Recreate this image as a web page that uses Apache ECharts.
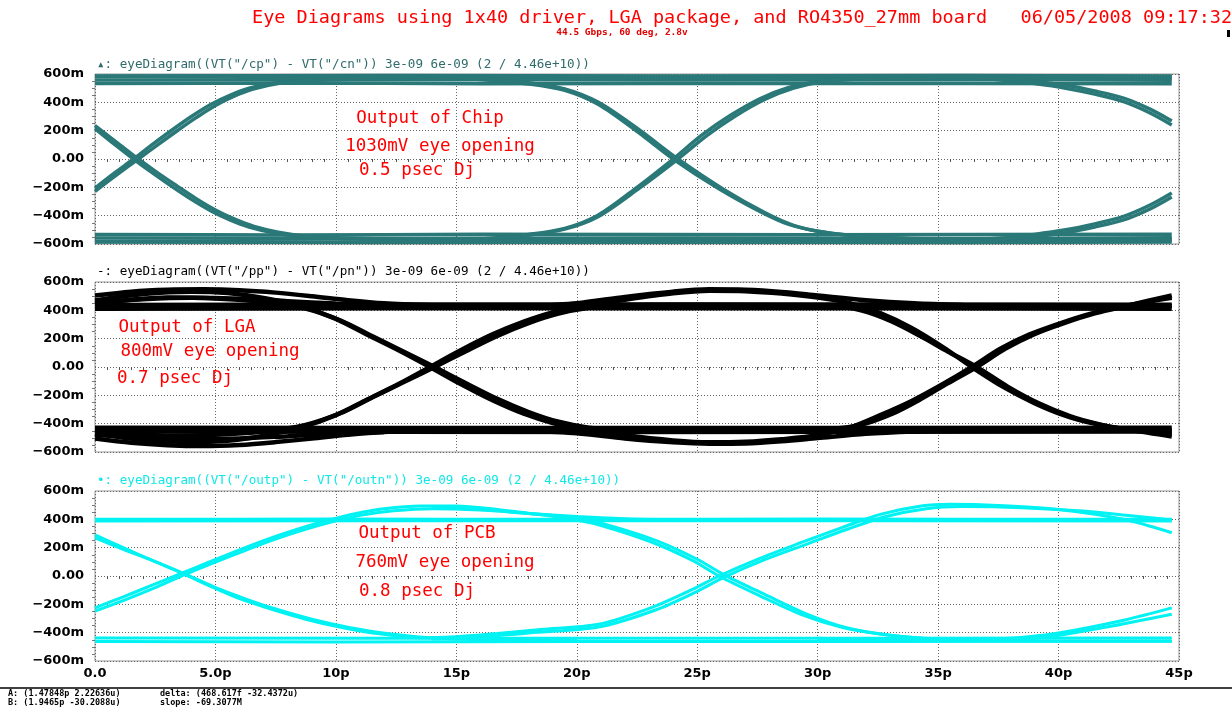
<!DOCTYPE html>
<html><head><meta charset="utf-8">
<script src="https://cdn.jsdelivr.net/npm/echarts@6/dist/echarts.min.js"></script>
<style>html,body{margin:0;padding:0;background:#fff}#c{width:1232px;height:717px}</style>
</head><body><div id="c"></div>
<script>
// ---- tick labels ----
const xTickLabels = ['0.0','5.0p','10p','15p','20p','25p','30p','35p','40p','45p'];
const yTickLabels = ['\u2212600m','\u2212400m','\u2212200m','0.00','200m','400m','600m'];

// ---- Panel 1: output of chip (time ps, voltage mV) ----
const chipHi1 = [[0,586],[12,589],[24,586],[36,589],[44.7,586]];
const chipHi2 = [[0,558],[12,561],[24,557],[36,561],[44.7,556]];
const chipHi3 = [[0,533],[8,536],[16,532],[30,535],[44.7,531]];
const chipLo1 = [[0,-586],[12,-589],[24,-586],[36,-589],[44.7,-586]];
const chipLo2 = [[0,-558],[12,-561],[24,-557],[36,-561],[44.7,-556]];
const chipLo3 = [[0,-533],[8,-536],[16,-532],[30,-535],[44.7,-531]];
const chipW1 = [[0,-205],[0.8,-100],[1.6,0],[2.4,105],[3.2,205],[4,300],[4.8,385],[5.6,450],[6.4,500],[7.4,535],[8.6,555],[10,565],[12,570],[14,572],[16,562],[18,530],[19.5,485],[20.9,385],[22.5,195],[24,0],[25.9,-210],[27.6,-370],[28.8,-462],[30,-510],[31.5,-540],[33,-555],[35,-565],[36.5,-568],[37.5,-560],[39,-532],[40.3,-500],[41.5,-458],[42.7,-405],[43.8,-325],[44.7,-240]];
const chipW2 = [[0,215],[0.8,105],[1.6,0],[2.4,-100],[3.2,-195],[4,-285],[4.8,-365],[5.6,-430],[6.4,-480],[7.4,-520],[8.6,-548],[10,-560],[12,-566],[14,-572],[16,-564],[18,-532],[19.5,-490],[20.9,-395],[22.5,-200],[24,0],[25.2,170],[26.4,310],[27.6,425],[28.8,505],[30,548],[31.5,565],[33,572],[35,576],[36.5,572],[37.5,560],[39,532],[40.3,500],[41.5,458],[42.7,405],[43.8,325],[44.7,240]];
const chipW3 = [[0,-228],[0.9,-112],[1.8,0],[2.6,100],[3.4,198],[4.2,292],[5,378],[5.8,445],[6.6,495],[7.6,532],[8.8,552],[10.3,562],[12,568],[20,570],[30,568],[44.7,566]];
const chipW4 = [[0,235],[0.9,118],[1.8,0],[2.6,-98],[3.4,-190],[4.2,-280],[5,-360],[5.8,-425],[6.6,-476],[7.6,-516],[8.8,-545],[10.3,-558],[12,-564],[20,-566],[30,-566],[44.7,-563]];
const chipW5 = [[0,582],[10,586],[14,580],[16,568],[18,538],[19.5,495],[20.9,400],[22.6,205],[24.2,0],[26.1,-215],[27.8,-378],[29,-468],[30.2,-515],[31.7,-545],[33.5,-562],[36,-572],[44.7,-576]];
const chipW6 = [[0,-582],[10,-586],[14,-580],[16,-568],[18,-538],[19.5,-495],[20.9,-405],[22.6,-205],[24.2,0],[25.4,165],[26.6,305],[27.8,420],[29,500],[30.2,545],[31.7,565],[33.5,575],[44.7,580]];
const chipW7 = [[30,586],[36,583],[37.5,572],[39,548],[40.3,520],[41.5,480],[42.7,430],[43.8,352],[44.7,268]];
const chipW8 = [[30,-586],[36,-583],[37.5,-572],[39,-548],[40.3,-520],[41.5,-480],[42.7,-430],[43.8,-352],[44.7,-268]];

// ---- Panel 2: output of LGA ----
const lgaHi1 = [[0,412],[22,415],[44.7,412]];
const lgaHi2 = [[0,438],[22,442],[44.7,440]];
const lgaLo1 = [[0,-428],[22,-431],[44.7,-428]];
const lgaLo2 = [[0,-455],[22,-458],[44.7,-455]];
const lgaW1 = [[0,-470],[2,-515],[4,-530],[5.5,-520],[7,-485],[8.5,-430],[10,-340],[11.3,-230],[12.6,-120],[13.9,0],[15.2,120],[16.5,230],[17.8,320],[19,385],[20.3,430],[22,475],[24,520],[25.5,538],[27,535],[28.5,518],[30,490],[31.3,452],[32.6,380],[33.9,275],[35.2,140],[36.4,0],[37.7,-140],[39,-255],[40.3,-345],[41.5,-400],[42.8,-440],[44.7,-475]];
const lgaW2 = [[0,470],[2,515],[4,532],[5.5,522],[7,488],[8.5,432],[10,340],[11.3,228],[12.6,118],[13.9,0],[15.2,-122],[16.5,-235],[17.8,-330],[19,-395],[20.3,-440],[22,-482],[24,-518],[25.5,-532],[27,-528],[28.5,-510],[30,-482],[31.3,-430],[32.6,-340],[33.9,-240],[35.2,-120],[36.4,0],[37.6,130],[38.8,230],[40,305],[41.3,375],[42.7,430],[44.7,488]];
const lgaW3 = [[0,-445],[3,-485],[5,-478],[7,-455],[8.7,-410],[10.2,-325],[11.5,-215],[12.8,-108],[14.1,0],[15.4,112],[16.7,220],[18,310],[19.2,375],[20.5,418],[22,438],[25,440],[30,436],[44.7,430]];
const lgaW4 = [[0,445],[3,490],[5,484],[7,460],[8.7,414],[10.2,328],[11.5,218],[12.8,110],[14.1,0],[15.4,-115],[16.7,-225],[18,-318],[19.2,-385],[20.5,-428],[22,-448],[25,-452],[30,-448],[44.7,-445]];
const lgaW5 = [[0,425],[20,428],[29,430],[30.5,428],[31.8,400],[33.1,320],[34.3,215],[35.4,110],[36.6,0],[37.9,-140],[39.2,-258],[40.5,-348],[41.7,-405],[43,-445],[44.7,-490]];
const lgaW6 = [[0,-438],[20,-442],[29,-442],[30.5,-438],[31.8,-408],[33.1,-330],[34.3,-225],[35.4,-115],[36.6,0],[37.8,130],[39,232],[40.2,308],[41.5,378],[42.9,435],[44.7,505]];
const lgaW7 = [[0,505],[1.5,532],[3,545],[4.5,548],[6,542],[7.5,525],[9,500],[10.5,472],[12,450],[14,436]];
const lgaW8 = [[0,-505],[1.5,-535],[3,-552],[4.5,-558],[6,-550],[7.5,-530],[9,-505],[10.5,-478],[12,-458],[14,-445]];
const lgaW9 = [[18,428],[20,450],[22,495],[24,532],[25.5,548],[27,545],[28.5,530],[30,505],[32,472],[34,450],[36,438]];
const lgaW10 = [[18,-448],[20,-468],[22,-505],[24,-532],[25.5,-542],[27,-540],[28.5,-525],[30,-502],[32,-472],[34,-455],[36,-445]];
const lgaW11 = [[0,455],[2,478],[4,488],[6,482],[8,465],[10,448],[12,438]];
const lgaW12 = [[0,-478],[2,-500],[4,-510],[6,-505],[8,-488],[10,-470],[12,-458]];

// ---- Panel 3: output of PCB ----
const pcbHi1 = [[0,400],[10,402],[20,400],[30,402],[44.7,400]];
const pcbHi2 = [[0,388],[22,390],[44.7,388]];
const pcbLo1 = [[0,-438],[22,-440],[44.7,-438]];
const pcbLo2 = [[0,-462],[10,-466],[20,-463],[44.7,-460]];
const pcbW1 = [[0,-225],[1.2,-145],[2.4,-63],[3.6,20],[4.8,103],[6,185],[7.2,262],[8.4,330],[9.6,390],[10.8,440],[12,475],[13.5,495],[15,495],[16.7,470],[18.5,432],[19.8,400],[20.9,362],[23.1,240],[24.8,110],[25.9,0],[27.6,-140],[29.3,-270],[31,-362],[32.6,-410],[34.3,-440],[36,-450],[38,-440],[40,-402],[42.7,-312],[44.7,-225]];
const pcbW2 = [[0,-248],[1.3,-165],[2.6,-75],[3.8,15],[5,98],[6.2,178],[7.4,255],[8.6,322],[9.8,380],[11,428],[12.4,460],[14,475],[16,465],[18,442],[20,420],[22,405],[24,398],[26,395]];
const pcbW3 = [[0,290],[1.2,198],[2.4,108],[3.6,20],[5,-88],[6,-160],[7.1,-222],[8.7,-303],[10.3,-365],[11.9,-410],[13.5,-435],[15,-428],[16.7,-405],[18.5,-378],[20.9,-341],[23.1,-223],[24.8,-95],[25.9,0],[27.6,125],[29.3,235],[31,341],[32.6,435],[34.3,494],[35.5,506],[37.5,498],[40,470],[42.7,400],[44.7,305]];
const pcbW4 = [[0,270],[1.3,180],[2.6,95],[3.8,10],[5.2,-95],[6.3,-165],[7.4,-228],[9,-305],[10.6,-365],[12.2,-408],[14,-438],[16,-450],[18,-452],[20,-452]];
const pcbW5 = [[14,-445],[16,-428],[18,-402],[20.9,-360],[23.3,-238],[25,-108],[26.1,-10],[27.8,115],[29.5,222],[31.2,328],[32.8,418],[34.5,475],[36,490],[38.5,482],[41,458],[43,425],[44.7,395]];
const pcbW6 = [[14,485],[16,470],[18,442],[19.8,412],[20.9,378],[23.3,250],[25,118],[26.1,10],[27.8,-130],[29.5,-265],[31.2,-365],[33,-418],[35,-445],[37,-455],[40,-458],[44.7,-458]];
const pcbW7 = [[30,-440],[34,-455],[37,-455],[39.5,-430],[42,-360],[44.7,-270]];

const chipTraces = [chipHi1, chipHi2, chipHi3, chipLo1, chipLo2, chipLo3, chipW1, chipW2, chipW3, chipW4, chipW5, chipW6, chipW7, chipW8];
const lgaTraces = [lgaHi1, lgaHi2, lgaLo1, lgaLo2, lgaW1, lgaW2, lgaW3, lgaW4, lgaW5, lgaW6, lgaW7, lgaW8, lgaW9, lgaW10, lgaW11, lgaW12];
const pcbTraces = [pcbHi1, pcbHi2, pcbLo1, pcbLo2, pcbW1, pcbW2, pcbW3, pcbW4, pcbW5, pcbW6, pcbW7];

const panelTitles = [
  '\u25B4: eyeDiagram((VT("/cp") - VT("/cn")) 3e-09 6e-09 (2 / 4.46e+10))',
  '-: eyeDiagram((VT("/pp") - VT("/pn")) 3e-09 6e-09 (2 / 4.46e+10))',
  '\u2022: eyeDiagram((VT("/outp") - VT("/outn")) 3e-09 6e-09 (2 / 4.46e+10))'
];
const notes = [
  ['Output of Chip','1030mV eye opening','0.5 psec Dj'],
  ['Output of LGA','800mV eye opening','0.7 psec Dj'],
  ['Output of PCB','760mV eye opening','0.8 psec Dj']
];

const chart = echarts.init(document.getElementById('c'), null, {renderer:'canvas'});
const gridTops = [74, 282, 491];
const panelColors = ['#2a7878', '#000000', '#00f2f2'];
const titleColors = ['#2f6b6b', '#000000', '#10e8e8'];
const widths = [3.5, 4.5, 3];
const labelFont = {fontFamily:'DejaVu Sans', fontSize:13, fontWeight:'bold', color:'#000'};

const grids = gridTops.map(t => ({left:95, right:53, top:t, height:170, show:true, borderColor:'#999', borderWidth:1}));
const xAxes = gridTops.map((t,i) => ({
  gridIndex:i, type:'value', min:0, max:45, interval:5,
  axisLine:{show:false}, axisTick:{show:false},
  minorTick:{show:true, splitNumber:10, length:3, lineStyle:{color:'#555'}},
  axisLabel:{show:i===2, margin:6, ...labelFont, formatter:(v)=>xTickLabels[Math.round(v/5)]},
  splitLine:{show:true, lineStyle:{color:'#666', type:[1,2], width:1}}
}));
const yAxes = gridTops.map((t,i) => ({
  gridIndex:i, type:'value', min:-600, max:600, interval:200,
  axisLine:{show:false}, axisTick:{show:false},
  minorTick:{show:true, splitNumber:4, length:3, lineStyle:{color:'#777'}},
  axisLabel:{show:true, margin:11, ...labelFont, formatter:(v)=>yTickLabels[Math.round((v+600)/200)]},
  splitLine:{show:true, lineStyle:{color:'#666', type:[1,2], width:1}}
}));

const series = [];
[chipTraces, lgaTraces, pcbTraces].forEach((traces, i) => {
  traces.forEach(tr => {
    series.push({type:'line', xAxisIndex:i, yAxisIndex:i, data:tr, showSymbol:false, smooth:0.3,
      silent:true, animation:false, lineStyle:{color:panelColors[i], width:widths[i]}});
  });
});

const graphic = [];
graphic.push({type:'text', x:252, y:18, style:{text:'Eye Diagrams using 1x40 driver, LGA package, and RO4350_27mm board   06/05/2008 09:17:32', fill:'#ff0000', font:'18.5px "DejaVu Sans Mono"', align:'left', verticalAlign:'middle'}});
graphic.push({type:'text', x:622, y:33, style:{text:'44.5 Gbps, 60 deg, 2.8v', fill:'#e00000', font:'bold 9.5px "DejaVu Sans Mono"', align:'center', verticalAlign:'middle'}});
graphic.push({type:'rect', shape:{x:1227, y:30, width:3, height:7}, style:{fill:'#000'}});
const titleYs = [65, 272, 481];
panelTitles.forEach((t,i) => graphic.push({type:'text', x:97, y:titleYs[i], style:{text:t, fill:titleColors[i], font:'12.6px "DejaVu Sans Mono"', align:'left', verticalAlign:'middle'}}));
const noteX = [[430,440,417],[187,210,175],[427,445,417]];
const noteY = [[118,146,170],[327,351,378],[533,562,591]];
notes.forEach((arr,i) => arr.forEach((t,j) => graphic.push({type:'text', x:noteX[i][j], y:noteY[i][j], z:100, style:{text:t, fill:'#ff0000', font:'17.5px "DejaVu Sans Mono"', align:'center', verticalAlign:'middle'}})));
graphic.push({type:'line', shape:{x1:0, y1:688, x2:1232, y2:688}, style:{stroke:'#000', lineWidth:1.5}});
const footer = [['A: (1.47848p 2.22636u)',8,694],['delta: (468.617f -32.4372u)',160,694],['B: (1.9465p -30.2088u)',8,703],['slope: -69.3077M',160,703]];
footer.forEach(f => graphic.push({type:'text', x:f[1], y:f[2], style:{text:f[0], fill:'#000', font:'bold 8.5px "DejaVu Sans Mono"', align:'left', verticalAlign:'middle'}}));

chart.setOption({animation:false, backgroundColor:'#fff', grid:grids, xAxis:xAxes, yAxis:yAxes, series:series, graphic:graphic});
</script></body></html>
